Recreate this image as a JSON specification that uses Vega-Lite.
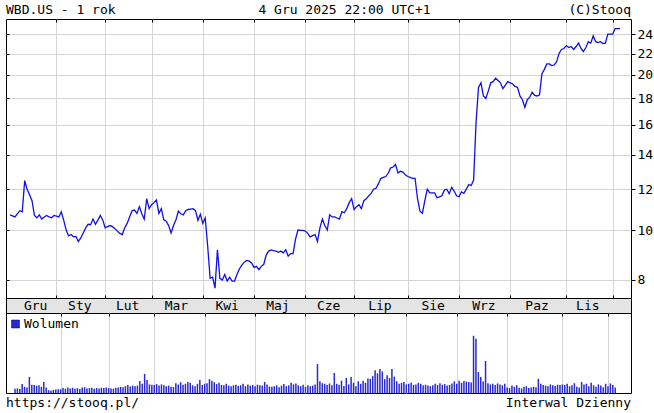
{
  "$schema": "https://vega.github.io/schema/vega-lite/v6.json",
  "padding": {"left": 5, "top": 0, "right": 0, "bottom": 0},
  "background": "#ffffff",
  "spacing": 0,
  "bounds": "flush",
  "datasets": {
    "p": [
      {"i":0,"c":10.70,"v":14},{"i":1,"c":10.65,"v":15},{"i":2,"c":10.6,"v":13},{"i":3,"c":10.75,"v":29},{"i":4,"c":10.9,"v":20},
      {"i":5,"c":10.85,"v":18},{"i":6,"c":12.47,"v":52},{"i":7,"c":12.0,"v":27},{"i":8,"c":11.7,"v":26},{"i":9,"c":11.4,"v":24},
      {"i":10,"c":10.67,"v":25},{"i":11,"c":10.56,"v":20},{"i":12,"c":10.7,"v":36},{"i":13,"c":10.5,"v":18},{"i":14,"c":10.6,"v":9},
      {"i":15,"c":10.67,"v":8},{"i":16,"c":10.6,"v":10},{"i":17,"c":10.56,"v":11},{"i":18,"c":10.67,"v":12},
      {"i":19,"c":10.64,"v":12},{"i":20,"c":10.6,"v":16},{"i":21,"c":10.85,"v":14},{"i":22,"c":10.44,"v":18},{"i":23,"c":10.0,"v":15},
      {"i":24,"c":9.74,"v":17},{"i":25,"c":9.8,"v":14},{"i":26,"c":9.7,"v":16},{"i":27,"c":9.72,"v":13},{"i":28,"c":9.5,"v":18},
      {"i":29,"c":9.65,"v":19},{"i":30,"c":9.87,"v":15},{"i":31,"c":10.1,"v":16},{"i":32,"c":10.26,"v":17},{"i":33,"c":10.24,"v":14},
      {"i":34,"c":10.5,"v":16},{"i":35,"c":10.26,"v":15},{"i":36,"c":10.45,"v":17},{"i":37,"c":10.67,"v":16},{"i":38,"c":10.45,"v":18},
      {"i":39,"c":10.1,"v":16},{"i":40,"c":10.15,"v":15},{"i":41,"c":10.2,"v":14},{"i":42,"c":10.15,"v":17},{"i":43,"c":10.06,"v":18},
      {"i":44,"c":9.95,"v":20},{"i":45,"c":9.85,"v":19},{"i":46,"c":9.8,"v":22},{"i":47,"c":10.1,"v":26},{"i":48,"c":10.3,"v":21},
      {"i":49,"c":10.6,"v":24},{"i":50,"c":10.9,"v":22},{"i":51,"c":10.93,"v":24},{"i":52,"c":10.77,"v":39},{"i":53,"c":11.1,"v":30},
      {"i":54,"c":10.75,"v":62},{"i":55,"c":10.5,"v":42},{"i":56,"c":11.5,"v":28},{"i":57,"c":11.0,"v":27},
      {"i":58,"c":11.2,"v":26},{"i":59,"c":11.3,"v":29},{"i":60,"c":11.44,"v":24},{"i":61,"c":10.77,"v":28},{"i":62,"c":11.0,"v":25},
      {"i":63,"c":10.46,"v":22},{"i":64,"c":10.4,"v":24},{"i":65,"c":10.2,"v":20},{"i":66,"c":9.87,"v":19},{"i":67,"c":10.2,"v":32},
      {"i":68,"c":10.47,"v":28},{"i":69,"c":10.88,"v":35},{"i":70,"c":10.75,"v":27},{"i":71,"c":10.7,"v":30},{"i":72,"c":10.9,"v":36},
      {"i":73,"c":10.96,"v":33},{"i":74,"c":10.98,"v":25},{"i":75,"c":11.0,"v":22},{"i":76,"c":10.9,"v":30},{"i":77,"c":10.44,"v":42},
      {"i":78,"c":10.73,"v":26},
      {"i":79,"c":10.3,"v":30},{"i":80,"c":10.55,"v":32},{"i":81,"c":9.3,"v":45},{"i":82,"c":8.06,"v":40},{"i":83,"c":8.1,"v":35},
      {"i":84,"c":7.71,"v":29},{"i":85,"c":9.15,"v":33},{"i":86,"c":8.06,"v":26},{"i":87,"c":8.0,"v":25},{"i":88,"c":8.2,"v":30},
      {"i":89,"c":7.96,"v":24},{"i":90,"c":8.1,"v":22},{"i":91,"c":7.96,"v":25},{"i":92,"c":7.96,"v":27},{"i":93,"c":8.2,"v":23},
      {"i":94,"c":8.4,"v":25},{"i":95,"c":8.55,"v":30},{"i":96,"c":8.66,"v":22},{"i":97,"c":8.73,"v":28},{"i":98,"c":8.7,"v":24},
      {"i":99,"c":8.63,"v":26},
      {"i":100,"c":8.46,"v":22},{"i":101,"c":8.5,"v":27},{"i":102,"c":8.38,"v":25},{"i":103,"c":8.5,"v":24},{"i":104,"c":8.58,"v":36},
      {"i":105,"c":8.95,"v":28},{"i":106,"c":9.1,"v":21},{"i":107,"c":9.15,"v":20},{"i":108,"c":9.12,"v":22},{"i":109,"c":9.1,"v":25},
      {"i":110,"c":9.05,"v":19},{"i":111,"c":9.1,"v":24},{"i":112,"c":9.03,"v":29},{"i":113,"c":9.15,"v":22},{"i":114,"c":8.9,"v":25},
      {"i":115,"c":9.0,"v":33},{"i":116,"c":9.0,"v":28},{"i":117,"c":9.6,"v":31},{"i":118,"c":10.0,"v":25},{"i":119,"c":9.98,"v":22},
      {"i":120,"c":9.98,"v":27},
      {"i":121,"c":9.95,"v":20},{"i":122,"c":9.85,"v":25},{"i":123,"c":9.7,"v":22},{"i":124,"c":9.75,"v":24},{"i":125,"c":9.8,"v":28},
      {"i":126,"c":9.5,"v":94},{"i":127,"c":10.1,"v":38},{"i":128,"c":10.5,"v":32},{"i":129,"c":10.2,"v":30},{"i":130,"c":10.0,"v":26},
      {"i":131,"c":10.7,"v":31},{"i":132,"c":10.6,"v":25},{"i":133,"c":10.6,"v":65},{"i":134,"c":10.55,"v":30},{"i":135,"c":10.5,"v":27},
      {"i":136,"c":10.85,"v":40},{"i":137,"c":10.8,"v":23},{"i":138,"c":11.0,"v":49},{"i":139,"c":11.3,"v":28},{"i":140,"c":11.5,"v":52},
      {"i":141,"c":10.96,"v":33},{"i":142,"c":11.1,"v":22},{"i":143,"c":11.2,"v":38},{"i":144,"c":11.0,"v":30},{"i":145,"c":11.4,"v":40},
      {"i":146,"c":11.5,"v":33},{"i":147,"c":11.65,"v":47},{"i":148,"c":11.78,"v":46},{"i":149,"c":12.0,"v":55},{"i":150,"c":12.05,"v":74},
      {"i":151,"c":12.3,"v":64},{"i":152,"c":12.6,"v":78},{"i":153,"c":12.65,"v":70},{"i":154,"c":12.7,"v":45},{"i":155,"c":12.9,"v":58},
      {"i":156,"c":13.2,"v":49},{"i":157,"c":13.25,"v":78},{"i":158,"c":13.4,"v":53},{"i":159,"c":12.9,"v":38},{"i":160,"c":13.0,"v":30},
      {"i":161,"c":12.95,"v":33},{"i":162,"c":12.8,"v":36},
      {"i":163,"c":12.7,"v":28},{"i":164,"c":12.65,"v":30},{"i":165,"c":12.6,"v":34},{"i":166,"c":12.6,"v":26},{"i":167,"c":11.5,"v":28},
      {"i":168,"c":10.88,"v":33},{"i":169,"c":10.78,"v":30},{"i":170,"c":11.4,"v":25},{"i":171,"c":12.0,"v":27},{"i":172,"c":11.8,"v":24},
      {"i":173,"c":11.8,"v":22},{"i":174,"c":11.8,"v":25},{"i":175,"c":11.55,"v":30},{"i":176,"c":11.6,"v":26},{"i":177,"c":11.65,"v":32},
      {"i":178,"c":11.95,"v":27},{"i":179,"c":12.0,"v":29},{"i":180,"c":11.76,"v":24},{"i":181,"c":12.1,"v":26},{"i":182,"c":11.9,"v":31},
      {"i":183,"c":11.65,"v":38},
      {"i":184,"c":11.6,"v":30},{"i":185,"c":11.85,"v":40},{"i":186,"c":11.78,"v":33},{"i":187,"c":12.0,"v":39},{"i":188,"c":12.25,"v":37},
      {"i":189,"c":12.2,"v":36},{"i":190,"c":12.5,"v":34},{"i":191,"c":16.2,"v":186},{"i":192,"c":18.9,"v":176},{"i":193,"c":19.3,"v":68},
      {"i":194,"c":18.2,"v":52},{"i":195,"c":18.0,"v":37},{"i":196,"c":18.6,"v":104},{"i":197,"c":19.3,"v":32},{"i":198,"c":19.4,"v":28},
      {"i":199,"c":19.7,"v":30},{"i":200,"c":19.5,"v":26},{"i":201,"c":19.3,"v":31},{"i":202,"c":18.8,"v":28},{"i":203,"c":19.1,"v":25},
      {"i":204,"c":19.4,"v":30},
      {"i":205,"c":19.3,"v":18},{"i":206,"c":19.2,"v":16},{"i":207,"c":19.0,"v":24},{"i":208,"c":18.9,"v":20},{"i":209,"c":18.2,"v":25},
      {"i":210,"c":17.9,"v":17},{"i":211,"c":17.3,"v":15},{"i":212,"c":17.9,"v":20},{"i":213,"c":18.1,"v":22},{"i":214,"c":18.5,"v":16},
      {"i":215,"c":18.25,"v":18},{"i":216,"c":18.2,"v":20},{"i":217,"c":18.3,"v":19},{"i":218,"c":20.1,"v":46},{"i":219,"c":20.5,"v":30},
      {"i":220,"c":21.0,"v":26},{"i":221,"c":21.0,"v":24},{"i":222,"c":20.85,"v":22},{"i":223,"c":20.9,"v":28},{"i":224,"c":21.2,"v":25},
      {"i":225,"c":22.0,"v":23},{"i":226,"c":22.4,"v":27},{"i":227,"c":22.5,"v":26},
      {"i":228,"c":22.8,"v":28},{"i":229,"c":22.6,"v":26},{"i":230,"c":22.7,"v":30},{"i":231,"c":22.4,"v":22},{"i":232,"c":22.7,"v":25},
      {"i":233,"c":23.05,"v":32},{"i":234,"c":22.5,"v":20},{"i":235,"c":22.2,"v":18},{"i":236,"c":22.6,"v":36},{"i":237,"c":23.2,"v":28},
      {"i":238,"c":23.05,"v":30},{"i":239,"c":23.8,"v":22},{"i":240,"c":23.2,"v":33},{"i":241,"c":23.1,"v":25},{"i":242,"c":23.2,"v":20},
      {"i":243,"c":23.0,"v":28},{"i":244,"c":23.05,"v":24},{"i":245,"c":24.0,"v":19},{"i":246,"c":24.0,"v":30},
      {"i":247,"c":24.0,"v":22},{"i":248,"c":24.6,"v":31},{"i":249,"c":24.6,"v":26},{"i":250,"c":24.6,"v":18}
    ],
    "m": [
      {"m":"Gru","x":10.5},{"m":"Sty","x":28.6},{"m":"Lut","x":48.2},{"m":"Mar","x":68.2},{"m":"Kwi","x":89},
      {"m":"Maj","x":109.8},{"m":"Cze","x":130.6},{"m":"Lip","x":151.6},{"m":"Sie","x":173.4},{"m":"Wrz","x":194.2},
      {"m":"Paz","x":216},{"m":"Lis","x":236.8}
    ]
  },
  "vconcat": [
    {
      "width": 625, "height": 19,
      "view": {"stroke": null},
      "layer": [
        {"data": {"values": [{"pos": "l", "t": "WBD.US - 1 rok"}]},
         "mark": {"type": "text", "align": "left", "baseline": "middle"},
         "encoding": {"x": {"field": "pos", "type": "nominal", "scale": {"type": "point", "domain": ["l", "c", "r"], "padding": 0}, "axis": null},
                      "text": {"field": "t"}}},
        {"data": {"values": [{"pos": "c", "t": "4 Gru 2025 22:00 UTC+1"}]},
         "mark": {"type": "text", "align": "center", "baseline": "middle", "dx": 26},
         "encoding": {"x": {"field": "pos", "type": "nominal", "axis": null},
                      "text": {"field": "t"}}},
        {"data": {"values": [{"pos": "r", "t": "(C)Stooq"}]},
         "mark": {"type": "text", "align": "right", "baseline": "middle"},
         "encoding": {"x": {"field": "pos", "type": "nominal", "axis": null},
                      "text": {"field": "t"}}}
      ]
    },
    {
      "width": 625, "height": 279,
      "data": {"name": "p"},
      "layer": [
        {
          "mark": {"type": "line", "color": "#1010e6", "strokeWidth": 1.3},
          "encoding": {
            "x": {"field": "i", "type": "quantitative",
                  "scale": {"domain": [-1.66, 254.5], "nice": false, "zero": false},
                  "axis": {"orient": "bottom", "values": [19,39,58,79,100,121,141,163,184,205,228,247], "grid": true, "labels": false, "tickSize": -3, "domain": false, "title": null}},
            "y": {"field": "c", "type": "quantitative",
                  "scale": {"type": "log", "domain": [7.38, 25.67], "nice": false},
                  "axis": {"orient": "right", "values": [8,10,12,14,16,18,20,22,24], "grid": true, "tickSize": 4, "labelPadding": 2, "domain": false, "title": null}}
          }
        },
        {
          "mark": {"type": "point", "opacity": 0},
          "encoding": {
            "x": {"field": "i", "type": "quantitative",
                  "axis": {"orient": "top", "values": [19,39,58,79,100,121,141,163,184,205,228,247], "grid": false, "labels": false, "tickSize": -3, "domain": false, "title": null}},
            "y": {"field": "c", "type": "quantitative",
                  "axis": {"orient": "left", "values": [8,10,12,14,16,18,20,22,24], "grid": false, "labels": false, "tickSize": -3, "domain": false, "title": null}}
          }
        }
      ],
      "resolve": {"axis": {"x": "independent", "y": "independent"}}
    },
    {
      "width": 625, "height": 15,
      "view": {"fill": "#e4e4e4", "stroke": "#000000"},
      "data": {"name": "m"},
      "mark": {"type": "text", "align": "center", "baseline": "middle"},
      "encoding": {
        "x": {"field": "x", "type": "quantitative", "scale": {"domain": [-1.66, 254.5], "nice": false, "zero": false}, "axis": null},
        "text": {"field": "m"}
      }
    },
    {
      "width": 625, "height": 80,
      "data": {"name": "p"},
      "mark": {"type": "bar", "width": 1.5},
      "encoding": {
        "x": {"field": "i", "type": "quantitative",
              "scale": {"domain": [-1.66, 254.5], "nice": false, "zero": false},
              "axis": {"orient": "top", "values": [19,39,58,79,100,121,141,163,184,205,228,247], "grid": true, "labels": false, "tickSize": -3, "domain": false, "title": null}},
        "y": {"field": "v", "type": "quantitative", "scale": {"domain": [0, 260], "nice": false}, "axis": null},
        "color": {"datum": "Wolumen", "type": "nominal", "scale": {"range": ["#2a2acc"]},
                  "legend": {"orient": "none", "legendX": 3, "legendY": 317.5, "title": null, "symbolType": "square", "symbolSize": 64, "labelOffset": 2, "padding": 0, "labelFont": "DejaVu Sans Mono", "labelFontSize": 13, "labelColor": "#000000", "symbolFillColor": "#0000c8", "symbolStrokeColor": "#000060", "symbolStrokeWidth": 0.5}}
      }
    },
    {
      "width": 625, "height": 20,
      "view": {"stroke": null},
      "layer": [
        {"data": {"values": [{"pos": "l", "t": "https://stooq.pl/"}]},
         "mark": {"type": "text", "align": "left", "baseline": "middle"},
         "encoding": {"x": {"field": "pos", "type": "nominal", "scale": {"type": "point", "domain": ["l", "r"], "padding": 0}, "axis": null},
                      "text": {"field": "t"}}},
        {"data": {"values": [{"pos": "r", "t": "Interwal Dzienny"}]},
         "mark": {"type": "text", "align": "right", "baseline": "middle"},
         "encoding": {"x": {"field": "pos", "type": "nominal", "axis": null},
                      "text": {"field": "t"}}}
      ]
    }
  ],
  "config": {
    "font": "DejaVu Sans Mono",
    "view": {"stroke": "#000000", "strokeWidth": 1},
    "axis": {"gridColor": "#d4d4d4", "gridWidth": 1, "tickColor": "#000000", "tickWidth": 1, "labelFont": "DejaVu Sans Mono", "labelFontSize": 13, "labelColor": "#000000"},
    "text": {"font": "DejaVu Sans Mono", "fontSize": 13, "fill": "#000000"}
  }
}
